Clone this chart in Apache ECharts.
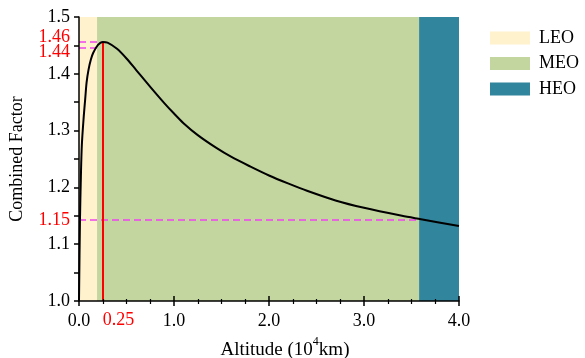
<!DOCTYPE html>
<html>
<head>
<meta charset="utf-8">
<script src="https://cdn.jsdelivr.net/npm/echarts@6/dist/echarts.min.js"></script>
<style>
  html, body { margin: 0; padding: 0; background: #fff; }
  #chart { width: 585px; height: 358px; }
</style>
</head>
<body>
<div id="chart"></div>
<script>
// altitude in 10^4 km
const altitude = [0, 0.01, 0.02, 0.03, 0.05, 0.065, 0.08, 0.1, 0.125, 0.15, 0.2, 0.25, 0.3, 0.4, 0.5, 0.6, 0.75, 0.9, 1.0, 1.1, 1.25, 1.45, 1.6, 1.8, 2.0, 2.2, 2.4, 2.7, 3.0, 3.4, 3.6, 4.0];
const factor = [1.0, 1.14, 1.22, 1.275, 1.325, 1.355, 1.385, 1.407, 1.425, 1.437, 1.451, 1.456, 1.455, 1.444, 1.427, 1.407, 1.377, 1.348, 1.330, 1.313, 1.292, 1.269, 1.254, 1.237, 1.221, 1.207, 1.194, 1.177, 1.164, 1.150, 1.144, 1.132];

const regions = ['LEO', 'MEO', 'HEO'];
const regionStart = [0, 0.19, 3.58];
const regionEnd = [0.19, 3.58, 4.0];
const regionColors = ['#FFF2CC', '#C4D6A0', '#31859C'];

// reference marks
const peak = [0.25, 1.456];
const refLines = [
  { x: 0.25, y: 1.456, label: '1.46', dy: -5 },
  { x: 0.19, y: 1.445, label: '1.44', dy: 4 },
  { x: 3.58, y: 1.143, label: '1.15', dy: 0 }
];

const font = 'Liberation Serif';
const chart = echarts.init(document.getElementById('chart'));

const regionSeries = regions.map((name, i) => ({
  name: name,
  type: 'bar',
  data: [],
  itemStyle: { color: regionColors[i] },
  markArea: {
    silent: true,
    itemStyle: { color: regionColors[i], opacity: 1 },
    data: [[{ xAxis: regionStart[i] }, { xAxis: regionEnd[i] }]]
  }
}));

const dashLines = refLines.map(r => [
  { coord: [0, r.y], lineStyle: { color: '#EE44EE', type: [7, 4], width: 1.5 } },
  { coord: [r.x, r.y] }
]);

const option = {
  animation: false,
  textStyle: { fontFamily: font },
  grid: { left: 79, right: 126, top: 17, bottom: 57, outerBoundsMode: 'none', containLabel: false },
  legend: {
    data: regions,
    orient: 'vertical',
    left: 485,
    top: 24,
    icon: 'rect',
    itemWidth: 40,
    itemHeight: 13,
    itemGap: 7.5,
    textStyle: { fontFamily: font, fontSize: 18, color: '#000', lineHeight: 18, padding: [0, 0, 0, 4] }
  },
  xAxis: [{
    type: 'value',
    min: 0, max: 4, interval: 1,
    z: 10,
    name: '{a|Altitude (10}{s|4}{a|km)}',
    nameLocation: 'middle',
    nameGap: 35,
    nameTextStyle: {
      padding: [0, 0, 0, 32],
      rich: {
        a: { fontFamily: font, fontSize: 19, color: '#000', lineHeight: 24, verticalAlign: 'bottom' },
        s: { fontFamily: font, fontSize: 12, color: '#000', verticalAlign: 'top' }
      }
    },
    splitLine: { show: false },
    axisLine: { onZero: false, lineStyle: { color: '#000', width: 1.5 } },
    axisTick: { length: 5, lineStyle: { color: '#000', width: 1.5 } },
    minorTick: { show: true, splitNumber: 4, length: 3, lineStyle: { color: '#000', width: 1.2 } },
    axisLabel: { margin: 11, fontSize: 18, color: '#000', fontFamily: font, formatter: v => v.toFixed(1) }
  }, {
    type: 'value',
    min: 0, max: 4, interval: 1,
    position: 'bottom',
    z: 10,
    splitLine: { show: false },
    axisLine: { show: false, onZero: false },
    axisTick: { inside: true, length: 5, lineStyle: { color: '#000', width: 1.5 } },
    minorTick: { show: true, splitNumber: 4, length: 2, lineStyle: { color: '#000', width: 1.2 } },
    axisLabel: { show: false }
  }],
  yAxis: {
    type: 'value',
    min: 1.0, max: 1.5, interval: 0.05,
    z: 10,
    name: 'Combined Factor',
    nameLocation: 'middle',
    nameGap: 53,
    nameTextStyle: { fontFamily: font, fontSize: 18, color: '#000' },
    splitLine: { show: false },
    axisLine: { onZero: false, lineStyle: { color: '#000', width: 1.5 } },
    axisTick: { length: 5, lineStyle: { color: '#000', width: 1.5 } },
    axisLabel: {
      margin: 9, fontSize: 18, color: '#000', fontFamily: font,
      formatter: v => (Math.round(v * 100) % 10 === 0 ? v.toFixed(1) : '')
    }
  },
  series: regionSeries.concat([{
    name: 'Combined Factor',
    type: 'line',
    data: altitude.map((a, i) => [a, factor[i]]),
    showSymbol: false,
    smooth: 0.3,
    z: 5,
    lineStyle: { color: '#000', width: 2 },
    markLine: {
      silent: true,
      symbol: 'none',
      animation: false,
      data: dashLines.concat([[
        {
          coord: [peak[0], 1.0],
          lineStyle: { color: '#FF0000', type: 'solid', width: 2 },
          label: {
            show: true, position: 'start', distance: 10, formatter: '0.25',
            color: '#FF0000', fontFamily: font, fontSize: 18, align: 'left'
          }
        },
        { coord: [peak[0], peak[1]] }
      ]])
    }
  }])
};

chart.setOption(option);

// red value labels next to the y axis, placed through the axis scale
chart.setOption({
  graphic: refLines.map(r => {
    const p = chart.convertToPixel({ gridIndex: 0 }, [0, r.y]);
    return {
      type: 'text',
      x: p[0] - 9,
      y: p[1] + r.dy,
      style: {
        text: r.label, fill: '#FF0000', font: '18px "Liberation Serif"',
        align: 'right', verticalAlign: 'middle'
      }
    };
  })
});
</script>
</body>
</html>
